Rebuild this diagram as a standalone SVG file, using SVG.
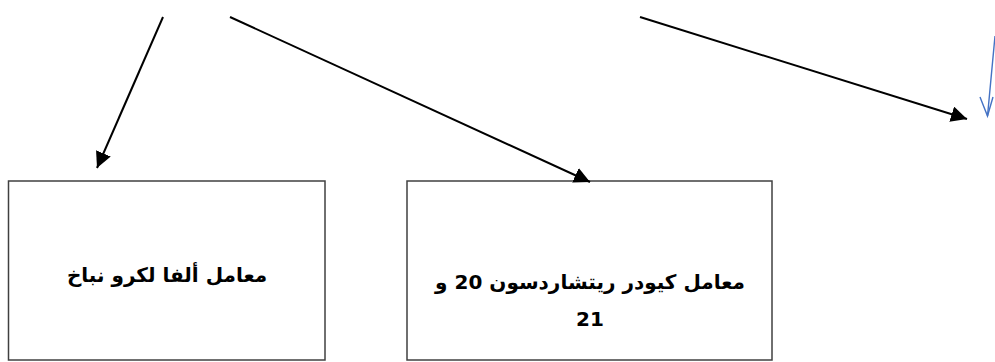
<svg xmlns="http://www.w3.org/2000/svg" width="995" height="362" viewBox="0 0 995 362">
<style>
.box{fill:#fff;stroke:#404040;stroke-width:1.5}
.conn{stroke:#000;stroke-width:2;fill:none}
.lbl{font-family:"DejaVu Sans","Noto Sans",sans-serif;font-weight:bold;font-size:20px;fill:#000}
</style>
<defs>
<marker id="ah" markerWidth="8" markerHeight="8" refX="8" refY="4" orient="auto" markerUnits="strokeWidth">
<path d="M0,0 L8,4 L0,8 z" fill="#000"/>
</marker>
</defs>
<g id="node1">
<rect class="box" x="8.5" y="181" width="316.5" height="179"/>
<text class="lbl" x="167" y="282" text-anchor="middle" direction="rtl">معامل ألفا لكرو نباخ</text>
</g>
<g id="node2">
<rect class="box" x="407" y="181" width="365" height="179"/>
<text class="lbl" x="590" y="289" text-anchor="middle" direction="rtl">معامل كيودر ريتشاردسون 20 و</text>
<text class="lbl" x="590" y="326" text-anchor="middle" direction="rtl">21</text>
</g>
<g id="connectors">
<line class="conn" x1="163" y1="17" x2="97" y2="168" marker-end="url(#ah)"/>
<line class="conn" x1="230" y1="17" x2="590" y2="182" marker-end="url(#ah)"/>
<line class="conn" x1="640" y1="17" x2="967" y2="119" marker-end="url(#ah)"/>
<line x1="995" y1="36" x2="987.5" y2="116" stroke="#4472C4" stroke-width="1.4"/>
<polyline points="980,97 987.5,116 993,97" fill="none" stroke="#4472C4" stroke-width="1.4"/>
</g>
</svg>
